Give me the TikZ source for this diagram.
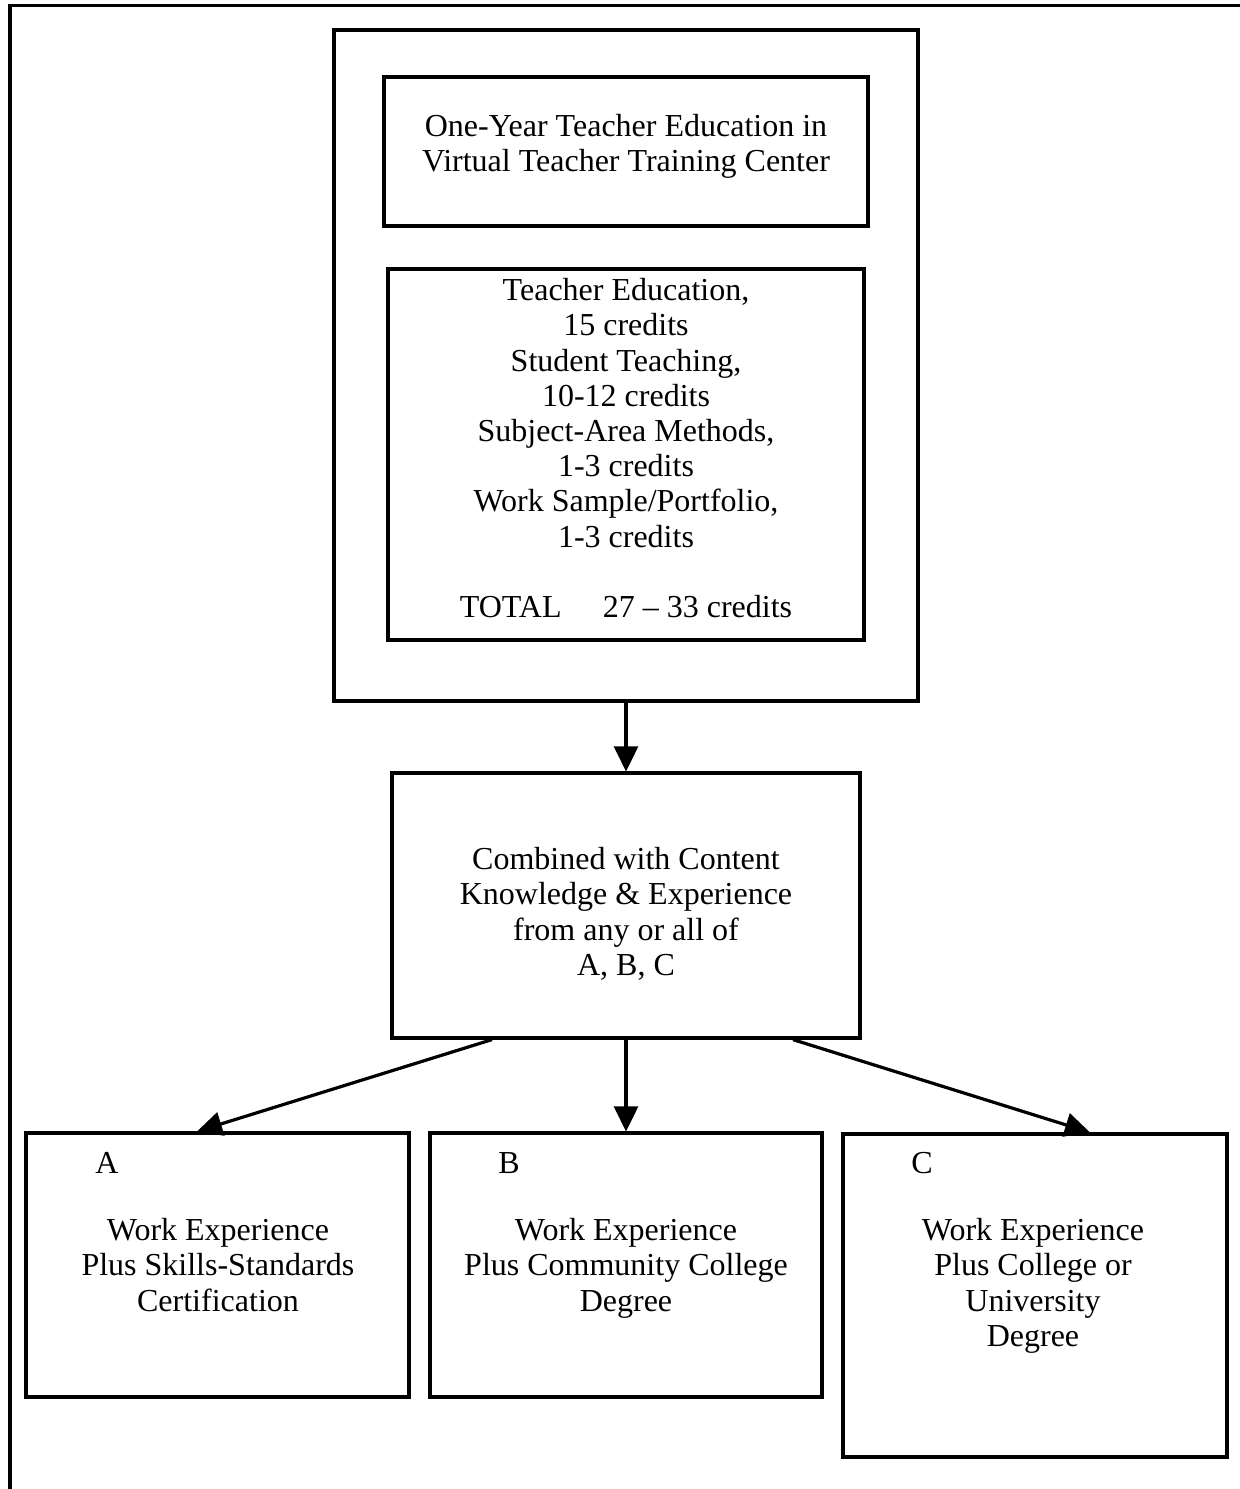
\documentclass[tikz,border=0pt]{standalone}
\usepackage{fontspec}
\setmainfont{Liberation Serif}
\usetikzlibrary{arrows.meta,fit,calc}
\begin{document}
\begin{tikzpicture}[
x=0.375pt,y=-0.375pt,
box/.style={draw,line width=1.2pt,inner sep=0pt},
txt/.style={inner sep=0pt,align=center,anchor=north,font=\fontsize{12}{13.2}\selectfont},
arr/.style={line width=1.2pt,-{Triangle[length=9.4pt,width=9pt]}}
]
\useasboundingbox (0,0) rectangle (1240,1489);
\clip (0,0) rectangle (1240,1489);
\draw[line width=1.4pt] (10,5.5) rectangle (1260,1510);

\node[box,fit={(334,30) (918,701)}] (outer) {};
\node[box,fit={(384,77) (868,226)}] (title) {};
\node[box,fit={(388,269) (864,640)}] (credits) {};
\node[box,fit={(392,773) (860,1038)}] (combined) {};
\node[box,fit={(26,1133) (409,1397)}] (boxA) {};
\node[box,fit={(430,1133) (822,1397)}] (boxB) {};
\node[box,fit={(843,1134) (1227,1457)}] (boxC) {};

\node[txt] (titletext) at (626,114) {One-Year Teacher Education in\\Virtual Teacher Training Center};
\node[txt] (credittext) at (626,278) {Teacher Education,\\15 credits\\Student Teaching,\\10-12 credits\\Subject-Area Methods,\\1-3 credits\\Work Sample/Portfolio,\\1-3 credits\\[13.2pt]TOTAL\hspace{15.5pt}27 – 33 credits};
\node[txt] (combtext) at (626,847) {Combined with Content\\Knowledge \& Experience\\from any or all of\\A, B, C};

\node[txt] (labA) at (107,1152) {A};
\node[txt] (labB) at (509,1152) {B};
\node[txt] (labC) at (922,1152) {C};
\node[txt] (textA) at (218,1218) {Work Experience\\Plus Skills-Standards\\Certification};
\node[txt] (textB) at (626,1218) {Work Experience\\Plus Community College\\Degree};
\node[txt] (textC) at (1033,1218) {Work Experience\\Plus College or\\University\\Degree};

\draw[arr] (outer.south) -- (combined.north);
\draw[arr] ($(combined.south)+(-134,0)$) -- ($(boxA.north)+(-20.5,0)$);
\draw[arr] (combined.south) -- (boxB.north);
\draw[arr] ($(combined.south)+(167,0)$) -- ($(boxC.north)+(55,0)$);
\end{tikzpicture}
\end{document}
